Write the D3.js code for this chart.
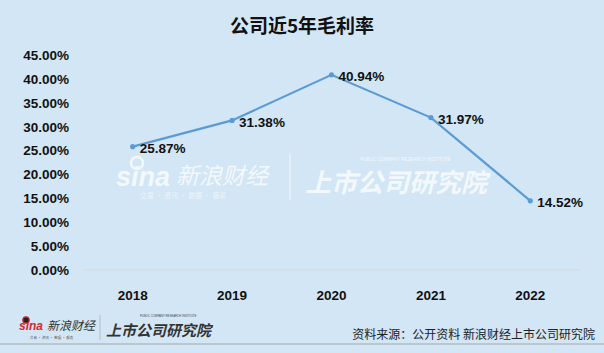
<!DOCTYPE html>
<html lang="zh">
<head>
  <meta charset="UTF-8">
  <title>公司近5年毛利率</title>
  <style>
    body { margin: 0; overflow: hidden; background: #d2e6f5; }
    svg { display: block; }
    text { font-family: "Liberation Sans", "Noto Sans CJK SC", sans-serif; }
    .cjk { font-family: "Noto Sans CJK SC", sans-serif; }
  </style>
</head>
<body>
<script src="https://cdn.jsdelivr.net/npm/d3@7/dist/d3.min.js"></script>
<script>
var years = ["2018", "2019", "2020", "2021", "2022"];
var margins = [25.87, 31.38, 40.94, 31.97, 14.52];
var yTicks = [0, 5, 10, 15, 20, 25, 30, 35, 40, 45];

var W = 604, H = 353;

var svg = d3.select("body").append("svg")
  .attr("width", W)
  .attr("height", H);

svg.append("rect")
  .attr("width", W).attr("height", H)
  .attr("fill", "#d2e6f5");

// title
svg.append("text")
  .attr("class", "cjk")
  .attr("x", 302).attr("y", 24)
  .attr("text-anchor", "middle")
  .attr("dominant-baseline", "central")
  .attr("font-size", 19)
  .attr("font-weight", "bold")
  .attr("fill", "#111")
  .text("公司近5年毛利率");

var x = d3.scaleBand().domain(years).range([83, 580]);
var y = d3.scaleLinear().domain([0, 45]).range([270, 55.5]);

// watermark (middle)
var wm = svg.append("g").attr("opacity", 0.75).attr("fill", "#fff");
wm.append("text")
  .attr("x", 116).attr("y", 186)
  .attr("font-size", 27).attr("font-weight", "bold").attr("font-style", "italic")
  .attr("font-family", "DejaVu Sans")
  .text("sina");
wm.append("circle").attr("cx", 137).attr("cy", 163).attr("r", 6)
  .attr("fill", "none").attr("stroke", "#fff").attr("stroke-width", 2.5);
wm.append("text")
  .attr("class", "cjk")
  .attr("x", 176).attr("y", 184)
  .attr("font-size", 23).attr("font-style", "italic")
  .text("新浪财经");
wm.append("text")
  .attr("class", "cjk")
  .attr("x", 140).attr("y", 198)
  .attr("font-size", 7).attr("opacity", 0.8)
  .text("交易 · 资讯 · 数据 · 服务");
wm.append("line")
  .attr("x1", 290).attr("x2", 290).attr("y1", 154).attr("y2", 200)
  .attr("stroke", "#fff").attr("stroke-width", 1);
wm.append("text")
  .attr("class", "cjk")
  .attr("x", 305).attr("y", 192)
  .attr("font-size", 26).attr("font-weight", "bold").attr("font-style", "italic")
  .text("上市公司研究院");
wm.append("text")
  .attr("x", 360).attr("y", 161)
  .attr("font-size", 4.5)
  .text("PUBLIC COMPANY RESEARCH INSTITUTE");

// axis line
svg.append("line")
  .attr("x1", 83).attr("x2", 580)
  .attr("y1", y(0)).attr("y2", y(0))
  .attr("stroke", "#d9d9d9").attr("stroke-width", 1);

// y tick labels
svg.selectAll(".ytick")
  .data(yTicks)
  .enter().append("text")
  .attr("class", "ytick")
  .attr("x", 69)
  .attr("y", function(d) { return y(d); })
  .attr("text-anchor", "end")
  .attr("dominant-baseline", "central")
  .attr("font-size", 13.5)
  .attr("font-weight", "bold")
  .attr("fill", "#111")
  .text(function(d) { return d.toFixed(2) + "%"; });

// x labels
svg.selectAll(".xtick")
  .data(years)
  .enter().append("text")
  .attr("class", "xtick")
  .attr("x", function(d) { return x(d) + x.bandwidth() / 2; })
  .attr("y", 295)
  .attr("text-anchor", "middle")
  .attr("dominant-baseline", "central")
  .attr("font-size", 13.5)
  .attr("font-weight", "bold")
  .attr("fill", "#111")
  .text(function(d) { return d; });

var line = d3.line()
  .x(function(d, i) { return x(years[i]) + x.bandwidth() / 2; })
  .y(function(d) { return y(d); });

svg.append("path")
  .datum(margins)
  .attr("fill", "none")
  .attr("stroke", "#5b9bd5")
  .attr("stroke-width", 2.2)
  .attr("d", line);

svg.selectAll(".dot")
  .data(margins)
  .enter().append("circle")
  .attr("class", "dot")
  .attr("cx", function(d, i) { return x(years[i]) + x.bandwidth() / 2; })
  .attr("cy", function(d) { return y(d); })
  .attr("r", 2.6)
  .attr("fill", "#5b9bd5");

svg.selectAll(".lbl")
  .data(margins)
  .enter().append("text")
  .attr("class", "lbl")
  .attr("x", function(d, i) { return x(years[i]) + x.bandwidth() / 2 + 7; })
  .attr("y", function(d) { return y(d) + 2; })
  .attr("dominant-baseline", "central")
  .attr("font-size", 13.5)
  .attr("font-weight", "bold")
  .attr("fill", "#111")
  .text(function(d) { return d.toFixed(2) + "%"; });

// footer logos
var ft = svg.append("g");
ft.append("text")
  .attr("x", 19).attr("y", 330)
  .attr("font-size", 12).attr("font-weight", "bold").attr("font-style", "italic")
  .attr("font-family", "DejaVu Sans")
  .attr("fill", "#d8282b")
  .text("sina");
ft.append("circle").attr("cx", 26).attr("cy", 320).attr("r", 3.2)
  .attr("fill", "#222").attr("stroke", "#d8282b").attr("stroke-width", 1.2);
ft.append("text")
  .attr("class", "cjk")
  .attr("x", 47).attr("y", 330)
  .attr("font-size", 12).attr("font-style", "italic")
  .attr("fill", "#333")
  .text("新浪财经");
ft.append("text")
  .attr("class", "cjk")
  .attr("x", 30).attr("y", 339)
  .attr("font-size", 3.5)
  .attr("fill", "#555")
  .text("交易 · 资讯 · 数据 · 服务");
ft.append("line")
  .attr("x1", 100).attr("x2", 100).attr("y1", 315).attr("y2", 340)
  .attr("stroke", "#bbb");
ft.append("text")
  .attr("class", "cjk")
  .attr("x", 106).attr("y", 336)
  .attr("font-size", 15).attr("font-weight", "bold").attr("font-style", "italic")
  .attr("fill", "#333")
  .text("上市公司研究院");
ft.append("text")
  .attr("x", 140).attr("y", 317)
  .attr("font-size", 2.8)
  .attr("fill", "#444")
  .text("PUBLIC COMPANY RESEARCH INSTITUTE");

svg.append("text")
  .attr("class", "cjk")
  .attr("x", 595).attr("y", 333)
  .attr("text-anchor", "end")
  .attr("dominant-baseline", "central")
  .attr("font-size", 12)
  .attr("fill", "#222")
  .text("资料来源：公开资料 新浪财经上市公司研究院");

svg.append("line")
  .attr("x1", 0).attr("x2", W)
  .attr("y1", 344).attr("y2", 344)
  .attr("stroke", "#a6a6a6").attr("stroke-width", 1.2);
</script>
</body>
</html>
